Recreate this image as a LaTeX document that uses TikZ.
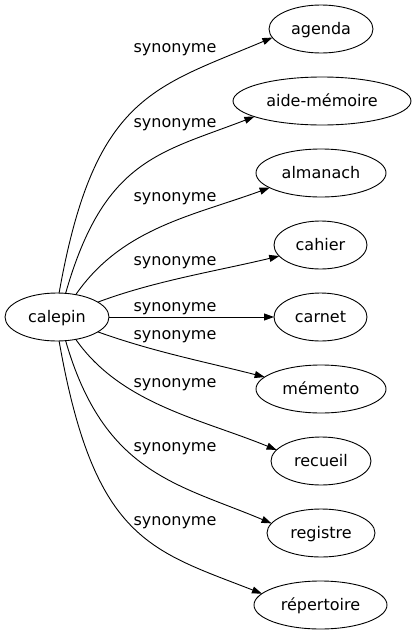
\documentclass[tikz,border=0pt]{standalone}
\usepackage{fontspec}
\setmainfont{DejaVu Sans}
\usetikzlibrary{shapes.geometric,arrows.meta}
\begin{document}
\begin{tikzpicture}[x=1pt,y=-1pt,
  word/.style={ellipse,draw,line width=0.9pt,inner sep=0pt,outer sep=0pt,minimum height=48pt,minimum width=#1,
    font=\fontsize{16}{19}\selectfont,text height=12pt,text depth=1.4pt},
  lab/.style={anchor=base,inner sep=0pt,font=\fontsize{16}{19}\selectfont},
  conn/.style={line width=0.9pt,-{Triangle[length=10pt,width=7pt]}}]
\useasboundingbox (0,0) rectangle (413,635);
\node[word=104pt] (calepin) at (57,317) {calepin};
\node[word=104pt] (agenda) at (321,29) {agenda};
\node[word=178pt] (aide) at (322,101) {aide-mémoire};
\node[word=130pt] (almanach) at (321,173) {almanach};
\node[word=93pt] (cahier) at (320.5,245) {cahier};
\node[word=93pt] (carnet) at (320.5,317) {carnet};
\node[word=130pt] (memento) at (321,389) {mémento};
\node[word=100pt] (recueil) at (321,461) {recueil};
\node[word=108pt] (registre) at (321,533) {registre};
\node[word=133pt] (repertoire) at (320.5,605) {répertoire};
\draw[conn] (calepin.85) .. controls (94,96) and (153,88) .. (agenda.190);
\draw[conn] (calepin.70) .. controls (104,159) and (160,153) .. (aide.193);
\draw[conn] (calepin.50) .. controls (122,228) and (192,216) .. (almanach.196);
\draw[conn] (calepin.20) .. controls (154,281) and (217,271) .. (cahier.195);
\draw[conn] (calepin.east) -- (carnet.west);
\draw[conn] (calepin.340) .. controls (154,352) and (206,362) .. (memento.168);
\draw[conn] (calepin.310) .. controls (121,404) and (201,419) .. (recueil.166);
\draw[conn] (calepin.290) .. controls (104,474) and (178,484) .. (registre.169);
\draw[conn] (calepin.275) .. controls (94,540) and (150,550) .. (repertoire.169);
\node[lab] (l1) at (175,52.5) {synonyme};
\node[lab] (l2) at (175,127) {synonyme};
\node[lab] (l3) at (175,201.5) {synonyme};
\node[lab] (l4) at (175,265) {synonyme};
\node[lab] (l5) at (175,311.5) {synonyme};
\node[lab] (l6) at (175,339) {synonyme};
\node[lab] (l7) at (175,387.5) {synonyme};
\node[lab] (l8) at (175,451.5) {synonyme};
\node[lab] (l9) at (175,525) {synonyme};
\end{tikzpicture}
\end{document}
